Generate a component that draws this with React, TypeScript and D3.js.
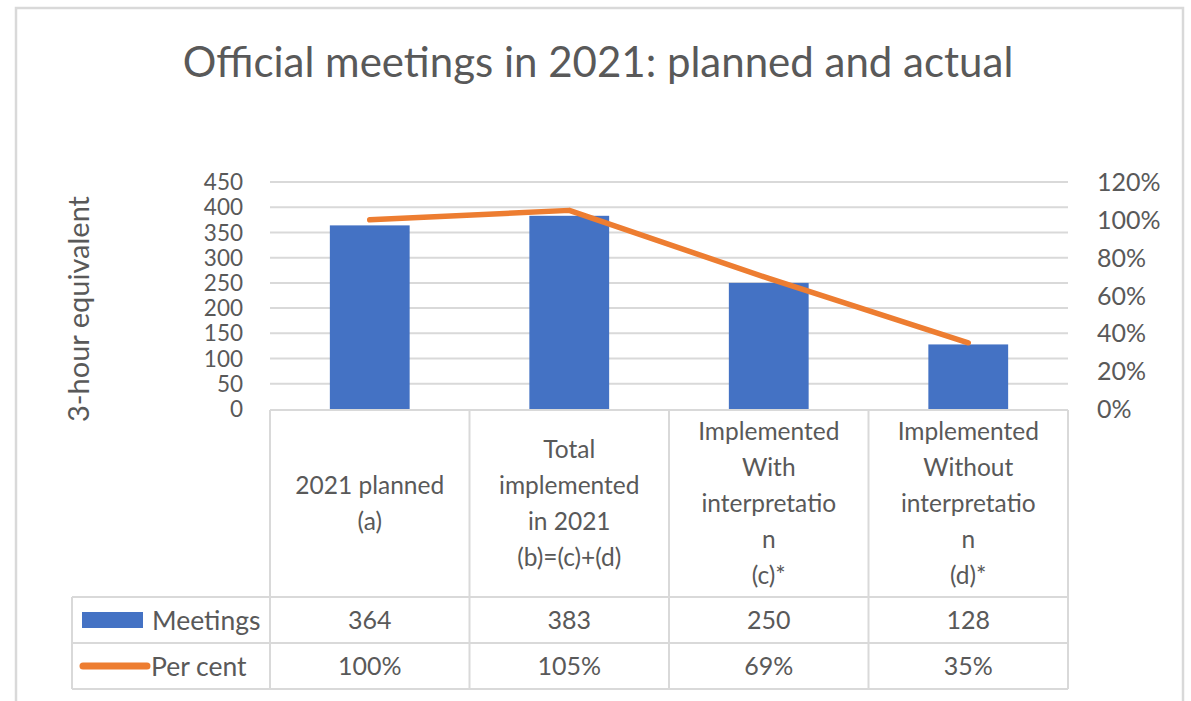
import * as d3 from "d3";

const categories = [
  ["2021 planned", "(a)"],
  ["Total", "implemented", "in 2021", "(b)=(c)+(d)"],
  ["Implemented", "With", "interpretatio", "n", "(c)*"],
  ["Implemented", "Without", "interpretatio", "n", "(d)*"],
];
const meetings = [364, 383, 250, 128];
const perCent = [100, 105, 69, 35];
const leftTicks = [0, 50, 100, 150, 200, 250, 300, 350, 400, 450];
const rightTicks = [0, 20, 40, 60, 80, 100, 120];

const W = 1191;
const H = 701;
const FONT = "Lato, 'Open Sans', sans-serif";
const TEXT = "#595959";
const GRID = "#d9d9d9";
const BLUE = "#4472C4";
const ORANGE = "#ED7D31";

export default function App() {
  const plotLeft = 270;
  const plotRight = 1068;
  const plotTop = 182;
  const plotBottom = 409;
  const legendLeft = 72;
  const headBottom = 597;
  const row1Bottom = 643;
  const row2Bottom = 689;

  const keys = categories.map((_, i) => String(i));
  const x = d3.scaleBand<string>().domain(keys).range([plotLeft, plotRight]).padding(0);
  const y = d3.scaleLinear().domain([0, 450]).range([plotBottom, plotTop]);
  const y2 = d3.scaleLinear().domain([0, 120]).range([plotBottom, plotTop]);
  const barW = x.bandwidth() * 0.4;
  const cx = (i: number) => (x(String(i)) as number) + x.bandwidth() / 2;

  const line = d3
    .line<number>()
    .x((_, i) => cx(i))
    .y((d) => y2(d));

  const colEdges = [...keys.map((k) => x(k) as number), plotRight];
  const headMid = (plotBottom + headBottom) / 2;
  const lineH = 36;

  return (
    <svg
      width={W}
      height={H}
      style={{ position: "absolute", left: 0, top: 0, background: "#fff" }}
      fontFamily={FONT}
    >
      <rect x={0} y={0} width={W} height={H} fill="#fff" />
      {/* outer chart border */}
      <path
        d={`M16,${H + 5} V8 H1183 V${H + 5}`}
        fill="none"
        stroke={GRID}
        strokeWidth={2.5}
      />

      <text x={598} y={77} textAnchor="middle" fontSize={42} fill={TEXT}>
        Official meetings in 2021: planned and actual
      </text>

      {/* gridlines */}
      {leftTicks
        .filter((t) => t > 0)
        .map((t) => (
          <line
            key={t}
            x1={plotLeft}
            x2={plotRight}
            y1={y(t)}
            y2={y(t)}
            stroke={GRID}
            strokeWidth={2}
          />
        ))}

      {/* left axis labels */}
      {leftTicks.map((t) => (
        <text
          key={t}
          x={243}
          y={y(t)}
          dy="0.36em"
          textAnchor="end"
          fontSize={22.5}
          fill={TEXT}
        >
          {t}
        </text>
      ))}
      {/* right axis labels */}
      {rightTicks.map((t) => (
        <text key={t} x={1097} y={y2(t)} dy="0.36em" fontSize={25} fill={TEXT}>
          {t}%
        </text>
      ))}

      <text
        transform={`translate(89,309) rotate(-90)`}
        textAnchor="middle"
        fontSize={29}
        fill={TEXT}
      >
        3-hour equivalent
      </text>

      {/* bars */}
      {meetings.map((v, i) => (
        <rect
          key={i}
          x={cx(i) - barW / 2}
          y={y(v)}
          width={barW}
          height={y(0) - y(v)}
          fill={BLUE}
        />
      ))}

      {/* per cent line */}
      <path
        d={line(perCent) || ""}
        fill="none"
        stroke={ORANGE}
        strokeWidth={5.5}
        strokeLinecap="round"
        strokeLinejoin="round"
      />

      {/* data table */}
      <g stroke={GRID} strokeWidth={2} fill="none">
        <line x1={plotLeft} x2={plotRight} y1={plotBottom + 1} y2={plotBottom + 1} />
        <line x1={legendLeft} x2={plotRight} y1={headBottom} y2={headBottom} />
        <line x1={legendLeft} x2={plotRight} y1={row1Bottom} y2={row1Bottom} />
        <line x1={legendLeft} x2={plotRight} y1={row2Bottom} y2={row2Bottom} />
        <line x1={legendLeft} x2={legendLeft} y1={headBottom} y2={row2Bottom} />
        {colEdges.map((e, i) => (
          <line key={i} x1={e} x2={e} y1={plotBottom + 1} y2={row2Bottom} />
        ))}
      </g>

      {categories.map((lines, i) => {
        const start = headMid - ((lines.length - 1) * lineH) / 2;
        return (
          <text key={i} textAnchor="middle" fontSize={24.5} fill={TEXT}>
            {lines.map((l, j) => (
              <tspan key={j} x={cx(i)} y={start + j * lineH} dy="0.36em">
                {l}
              </tspan>
            ))}
          </text>
        );
      })}

      {meetings.map((v, i) => (
        <text
          key={i}
          x={cx(i)}
          y={(headBottom + row1Bottom) / 2}
          dy="0.36em"
          textAnchor="middle"
          fontSize={25}
          fill={TEXT}
        >
          {v}
        </text>
      ))}
      {perCent.map((v, i) => (
        <text
          key={i}
          x={cx(i)}
          y={(row1Bottom + row2Bottom) / 2}
          dy="0.36em"
          textAnchor="middle"
          fontSize={25}
          fill={TEXT}
        >
          {v}%
        </text>
      ))}

      {/* legend keys */}
      <rect x={82} y={612} width={61} height={16} fill={BLUE} />
      <text x={152} y={620} dy="0.36em" fontSize={26.5} fill={TEXT}>
        Meetings
      </text>
      <line
        x1={83}
        x2={147}
        y1={666}
        y2={666}
        stroke={ORANGE}
        strokeWidth={7}
        strokeLinecap="round"
      />
      <text x={151} y={666} dy="0.36em" fontSize={26.5} fill={TEXT}>
        Per cent
      </text>
    </svg>
  );
}
